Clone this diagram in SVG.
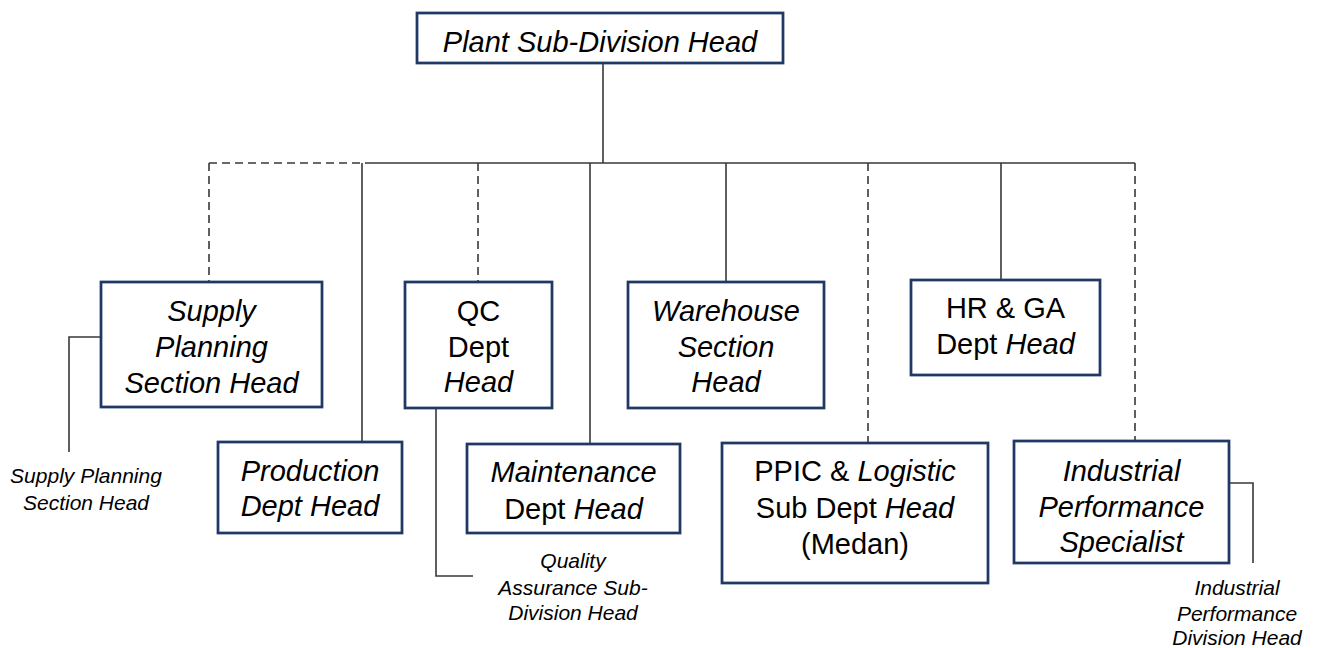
<svg xmlns="http://www.w3.org/2000/svg" width="1319" height="648" viewBox="0 0 1319 648">
<style>
.box{fill:#fff;stroke:#1f3864;stroke-width:2.75}
.t{font-family:"Liberation Sans",Arial,sans-serif;font-size:29px;fill:#000;text-anchor:middle}
.s{font-family:"Liberation Sans",Arial,sans-serif;font-size:21px;fill:#000;text-anchor:middle;font-style:italic}
.i{font-style:italic}
.c{fill:none;stroke:#383838;stroke-width:1.6}
.d{stroke-dasharray:8 5}
</style>
<rect width="1319" height="648" fill="#fff"/>
<g id="connectors">
<path class="c" d="M603 63V163"/>
<path class="c d" d="M209 163H372"/>
<path class="c" d="M372 163H1135"/>
<path class="c d" d="M209 163V282"/>
<path class="c d" d="M478 163V282"/>
<path class="c d" d="M868 163V443"/>
<path class="c d" d="M1135 163V441"/>
<path class="c" d="M362 163V442"/>
<path class="c" d="M590 163V444"/>
<path class="c" d="M726 163V282"/>
<path class="c" d="M1001 163V280"/>
<path class="c" d="M101 337H69V452"/>
<path class="c" d="M436 408V576H473"/>
<path class="c" d="M1229 483H1253V563"/>
</g>
<g id="plant-head">
<rect class="box" x="417" y="13" width="366" height="50"/>
<text class="t i" x="600" y="52">Plant Sub-Division Head</text>
</g>
<g id="supply-planning">
<rect class="box" x="101" y="282" width="221" height="125"/>
<text class="t i" x="211.5" y="321">Supply</text>
<text class="t i" x="211.5" y="357">Planning</text>
<text class="t i" x="211.5" y="393">Section Head</text>
</g>
<g id="qc">
<rect class="box" x="405" y="282" width="147" height="126"/>
<text class="t" x="478.5" y="321">QC</text>
<text class="t" x="478.5" y="357">Dept</text>
<text class="t i" x="478.5" y="392">Head</text>
</g>
<g id="warehouse">
<rect class="box" x="628" y="282" width="196" height="126"/>
<text class="t i" x="726" y="321">Warehouse</text>
<text class="t i" x="726" y="357">Section</text>
<text class="t i" x="726" y="392">Head</text>
</g>
<g id="hr-ga">
<rect class="box" x="911" y="280" width="189" height="95"/>
<text class="t" x="1005.5" y="318">HR &amp; GA</text>
<text class="t" x="1005.5" y="354">Dept <tspan class="i">Head</tspan></text>
</g>
<g id="production">
<rect class="box" x="218" y="442" width="184" height="91"/>
<text class="t i" x="310" y="481">Production</text>
<text class="t i" x="310" y="516">Dept Head</text>
</g>
<g id="maintenance">
<rect class="box" x="467" y="444" width="213" height="89"/>
<text class="t i" x="573.5" y="482">Maintenance</text>
<text class="t" x="573.5" y="519">Dept <tspan class="i">Head</tspan></text>
</g>
<g id="ppic">
<rect class="box" x="722" y="443" width="266" height="140"/>
<text class="t" x="855" y="481">PPIC &amp; <tspan class="i">Logistic</tspan></text>
<text class="t" x="855" y="518">Sub Dept <tspan class="i">Head</tspan></text>
<text class="t" x="855" y="554">(Medan)</text>
</g>
<g id="industrial">
<rect class="box" x="1014" y="441" width="215" height="122"/>
<text class="t i" x="1121.5" y="481">Industrial</text>
<text class="t i" x="1121.5" y="517">Performance</text>
<text class="t i" x="1121.5" y="552">Specialist</text>
</g>
<g id="supply-note">
<text class="s" x="86" y="483">Supply Planning</text>
<text class="s" x="86" y="510">Section Head</text>
</g>
<g id="quality-note">
<text class="s" x="573" y="568">Quality</text>
<text class="s" x="573" y="595">Assurance Sub-</text>
<text class="s" x="573" y="620">Division Head</text>
</g>
<g id="industrial-note">
<text class="s" x="1237" y="595">Industrial</text>
<text class="s" x="1237" y="621">Performance</text>
<text class="s" x="1237" y="645">Division Head</text>
</g>
</svg>
